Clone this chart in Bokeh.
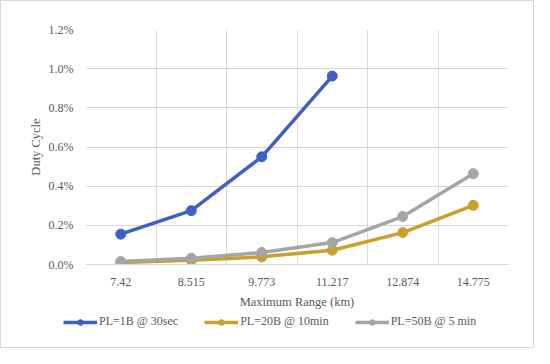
from bokeh.plotting import figure
from bokeh.layouts import column
from bokeh.models import FixedTicker, Range1d, Legend, LegendItem, PrintfTickFormatter
from bokeh.embed import file_html
from bokeh.resources import INLINE

categories = ["7.42", "8.515", "9.773", "11.217", "12.874", "14.775"]
pl1b = [0.155, 0.275, 0.55, 0.962]
pl20b = [0.010, 0.022, 0.039, 0.073, 0.163, 0.302]
pl50b = [0.015, 0.032, 0.061, 0.112, 0.245, 0.464]
series_names = ["PL=1B @ 30sec", "PL=20B @ 10min", "PL=50B @ 5 min"]
colors = ["#3F5FC4", "#C9A02A", "#A5A5A5"]

FONT = "Liberation Serif"
TXT = "#595959"
GRID = "#D9D9D9"

n = len(categories)
xpos = [i + 0.5 for i in range(n)]
series = [pl1b, pl20b, pl50b]

p = figure(frame_width=423, frame_height=235, output_backend="svg", toolbar_location=None,
           x_range=Range1d(0, n), y_range=Range1d(0, 1.2),
           min_border_left=84, min_border_right=25, min_border_top=28, min_border_bottom=44)
p.outline_line_color = None
p.background_fill_color = "white"

p.xaxis.ticker = FixedTicker(ticks=xpos)
p.xaxis.major_label_overrides = {x: c for x, c in zip(xpos, categories)}
p.xgrid.ticker = FixedTicker(ticks=list(range(n + 1)))
p.xgrid.grid_line_color = GRID
p.xaxis.axis_line_color = GRID
p.xaxis.major_tick_line_color = None
p.xaxis.minor_tick_line_color = None
p.xaxis.axis_label = "Maximum Range (km)"

p.yaxis.ticker = FixedTicker(ticks=[0, 0.2, 0.4, 0.6, 0.8, 1.0, 1.2])
p.yaxis.formatter = PrintfTickFormatter(format="%.1f%%")
p.ygrid.ticker = FixedTicker(ticks=[0, 0.2, 0.4, 0.6, 0.8, 1.0, 1.2])
p.ygrid.grid_line_color = GRID
p.yaxis.axis_line_color = None
p.yaxis.major_tick_line_color = None
p.yaxis.minor_tick_line_color = None
p.yaxis.axis_label = "Duty Cycle"

for ax in (p.xaxis[0], p.yaxis[0]):
    ax.major_label_text_font = FONT
    ax.major_label_text_font_size = "12px"
    ax.major_label_text_color = TXT
    ax.axis_label_text_font = FONT
    ax.axis_label_text_font_size = "12.5px"
    ax.axis_label_text_font_style = "normal"
    ax.axis_label_text_color = TXT
p.xaxis.major_label_standoff = 7
p.xaxis.axis_label_standoff = 6
p.yaxis.major_label_standoff = 6
p.yaxis.axis_label_standoff = 3

for name, vals, col in zip(series_names, series, colors):
    xs = xpos[:len(vals)]
    p.line(xs, vals, line_color=col, line_width=3.5)
    p.scatter(xs, vals, size=10, fill_color=col, line_color=col)

# legend strip (same series drawn outside its visible range, used only for legend glyphs)
lf = figure(frame_width=532, frame_height=36, output_backend="svg", toolbar_location=None,
            x_range=Range1d(100, 101), y_range=Range1d(100, 101),
            min_border_left=0, min_border_right=0, min_border_top=0, min_border_bottom=0)
lf.axis.visible = False
lf.grid.visible = False
lf.outline_line_color = None
items = []
for name, vals, col in zip(series_names, series, colors):
    xs = xpos[:len(vals)]
    r1 = lf.line(xs, vals, line_color=col, line_width=3.5)
    r2 = lf.scatter(xs, vals, size=9, fill_color=col, line_color=col)
    items.append(LegendItem(label=name, renderers=[r1, r2]))
legend = Legend(items=items, orientation="horizontal", location=(62, 18),
                label_text_font=FONT, label_text_font_size="12px", label_text_color=TXT,
                glyph_width=34, glyph_height=14, spacing=26, label_standoff=2,
                padding=0, margin=0, border_line_color=None, background_fill_alpha=0)
lf.add_layout(legend)

layout = column(p, lf, spacing=0, styles={"border": "1px solid #D9D9D9"})

open("out.html", "w").write(file_html(layout, INLINE))
